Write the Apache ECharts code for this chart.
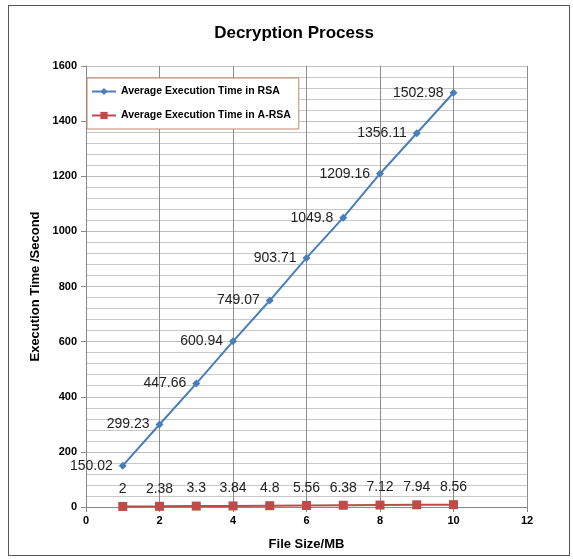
<!DOCTYPE html>
<html>
<head>
<meta charset="utf-8">
<script src="https://cdn.jsdelivr.net/npm/echarts@6/dist/echarts.min.js"></script>
<style>
  html, body { margin: 0; padding: 0; background: #fff; }
  #frame { position: absolute; left: 8px; top: 5px; width: 562px; height: 551px; border: 1px solid #555; box-sizing: border-box; }
  #chart { position: absolute; left: 0; top: 0; width: 573px; height: 559px; }
</style>
</head>
<body>
<div id="frame"></div>
<div id="chart"></div>
<script>
// File sizes in MB
const fileSizes = [1, 2, 3, 4, 5, 6, 7, 8, 9, 10];
// Average decryption time (seconds)
const rsaTimes = [150.02, 299.23, 447.66, 600.94, 749.07, 903.71, 1049.8, 1209.16, 1356.11, 1502.98];
const arsaTimes = [2, 2.38, 3.3, 3.84, 4.8, 5.56, 6.38, 7.12, 7.94, 8.56];
const seriesNames = ['Average Execution Time in RSA', 'Average Execution Time in A-RSA'];

const font = 'Liberation Sans, Arial, sans-serif';
const chart = echarts.init(document.getElementById('chart'), null, { renderer: 'canvas' });

const pairs = vals => fileSizes.map((x, i) => [x, vals[i]]);

chart.setOption({
  animation: false,
  backgroundColor: 'transparent',
  title: {
    text: 'Decryption Process',
    left: 289, top: 20, textAlign: 'center',
    textStyle: { fontFamily: font, fontSize: 17, fontWeight: 'bold', color: '#000' }
  },
  grid: { left: 86, right: 46, top: 66, bottom: 52 },
  legend: {
    orient: 'vertical',
    left: 87, top: 78,
    itemGap: 13,
    itemWidth: 24, itemHeight: 9,
    padding: [8, 8, 8, 4],
    borderColor: '#c0876a', borderWidth: 1,
    backgroundColor: '#fff',
    textStyle: { fontFamily: font, fontSize: 10.5, fontWeight: 'bold', color: '#000' },
    data: seriesNames
  },
  xAxis: {
    type: 'value', min: 0, max: 12, interval: 2,
    name: 'File Size/MB', nameLocation: 'middle', nameGap: 31,
    nameTextStyle: { fontFamily: font, fontSize: 13, fontWeight: 'bold', color: '#000' },
    axisLine: { lineStyle: { color: '#888', width: 1 } },
    axisTick: { show: true, length: 5, lineStyle: { color: '#888' } },
    axisLabel: { fontFamily: font, fontSize: 11, fontWeight: 'bold', color: '#000', margin: 8 },
    splitLine: { show: true, lineStyle: { color: '#8c8c8c', width: 1 } }
  },
  yAxis: {
    type: 'value', min: 0, max: 1600, interval: 200,
    name: 'Execution Time /Second', nameLocation: 'middle', nameGap: 44,
    nameTextStyle: { fontFamily: font, fontSize: 13, fontWeight: 'bold', color: '#000' },
    axisLine: { show: true, lineStyle: { color: '#888', width: 1 } },
    axisTick: { show: true, length: 5, lineStyle: { color: '#888' } },
    axisLabel: { fontFamily: font, fontSize: 11, fontWeight: 'bold', color: '#000', margin: 9,
                 formatter: v => String(v) },
    splitLine: { show: true, lineStyle: { color: '#bfbfbf', width: 1 } },
    minorTick: { show: false, splitNumber: 5 },
    minorSplitLine: { show: true, lineStyle: { color: '#c8c8c8', width: 1 } }
  },
  series: [
    {
      name: seriesNames[0], type: 'line',
      data: pairs(rsaTimes),
      symbol: 'diamond', symbolSize: 8,
      itemStyle: { color: '#4a7ebb' },
      lineStyle: { color: '#4a7ebb', width: 2 },
      label: {
        show: true, position: 'left', distance: 6,
        fontFamily: font, fontSize: 14, color: '#222'
      },
      z: 3
    },
    {
      name: seriesNames[1], type: 'line',
      data: pairs(arsaTimes),
      symbol: 'rect', symbolSize: 9,
      itemStyle: { color: '#be4b48' },
      lineStyle: { color: '#be4b48', width: 2 },
      label: {
        show: true, position: 'top', distance: 6,
        fontFamily: font, fontSize: 14, color: '#222'
      },
      z: 4
    }
  ]
});
</script>
</body>
</html>
